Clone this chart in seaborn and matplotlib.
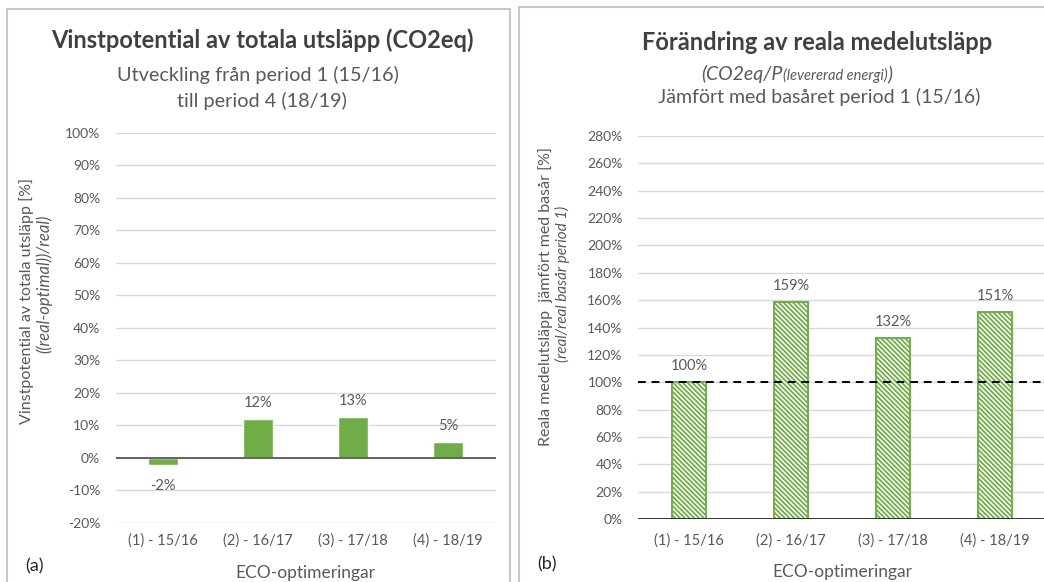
import matplotlib
matplotlib.use("Agg")
import matplotlib.pyplot as plt
import seaborn as sns
from matplotlib.patches import Rectangle

# ---- data -------------------------------------------------------------
categories = ["(1) - 15/16", "(2) - 16/17", "(3) - 17/18", "(4) - 18/19"]
vinst_values = [-0.022, 0.118, 0.126, 0.047]      # (real-optimal)/real
reala_values = [1.00, 1.59, 1.32, 1.51]           # real / real base year

left_yticks = [-0.2, -0.1, 0.0, 0.1, 0.2, 0.3, 0.4, 0.5, 0.6, 0.7, 0.8, 0.9, 1.0]
right_yticks = [0.0, 0.2, 0.4, 0.6, 0.8, 1.0, 1.2, 1.4, 1.6, 1.8, 2.0, 2.2, 2.4, 2.6, 2.8]
base_level = 1.0

# ---- style ------------------------------------------------------------
sns.set_theme(style="white")
plt.rcParams["font.family"] = ["Lato", "DejaVu Sans"]
plt.rcParams["hatch.linewidth"] = 1.3

GREEN = "#70ad47"
TEXT = "#595959"
GRID = "#d9d9d9"
BORDER = "#c6c6c6"

W, H = 1044, 582
fig = plt.figure(figsize=(W / 100, H / 100), dpi=100)


def fx(px):
    return px / W


def fy(py):
    return 1 - py / H


# panel frames
fig.add_artist(Rectangle((fx(7), fy(600)), fx(510 - 7), fy(9) - fy(600),
                         transform=fig.transFigure, fill=False,
                         edgecolor=BORDER, lw=1.5))
fig.add_artist(Rectangle((fx(519), fy(600)), fx(1060 - 519), fy(7) - fy(600),
                         transform=fig.transFigure, fill=False,
                         edgecolor=BORDER, lw=1.5))

ax1 = fig.add_axes([fx(115.5), fy(522.7), fx(495.5 - 115.5), fy(132.7) - fy(522.7)])
ax2 = fig.add_axes([fx(638), fy(519), fx(1046 - 638), fy(136) - fy(519)])


def pct(v):
    return f"{v * 100:.0f}%"


def style_axes(ax, ticks, lo, hi, xpad):
    ax.set_ylim(lo, hi)
    ax.set_yticks(ticks)
    ax.set_yticklabels([pct(t) for t in ticks])
    ax.yaxis.grid(True, color=GRID, lw=1)
    ax.set_axisbelow(True)
    for s in ax.spines.values():
        s.set_visible(False)
    ax.tick_params(axis="y", length=0, pad=11, labelsize=10, labelcolor=TEXT)
    ax.tick_params(axis="x", length=0, pad=xpad, labelsize=10.5, labelcolor=TEXT)
    ax.set_xlabel("ECO-optimeringar", fontsize=12.5, color=TEXT, labelpad=12)
    ax.set_ylabel("")
    ax.patch.set_alpha(0)


# ---- left panel -------------------------------------------------------
sns.barplot(x=categories, y=vinst_values, ax=ax1, color=GREEN,
            saturation=1, width=0.32)
style_axes(ax1, left_yticks, -0.2, 1.0, 8)
ax1.axhline(0, color=TEXT, lw=1.3, zorder=1.5)
for i, v in enumerate(vinst_values):
    off = 11.5 if v >= 0 else -15
    ax1.annotate(pct(v), (i, v), xytext=(0, off), textcoords="offset points",
                 ha="center", va="center", fontsize=10.5, color=TEXT)

# ---- right panel ------------------------------------------------------
sns.barplot(x=categories, y=reala_values, ax=ax2, color="white",
            saturation=1, width=0.33)
for p in ax2.patches:
    p.set_facecolor("white")
    p.set_edgecolor(GREEN)
    p.set_hatch("\\" * 7)
    p.set_linewidth(1.4)
style_axes(ax2, right_yticks, 0, 2.8, 10)
ax2.axhline(0, color="#262626", lw=1.3, zorder=3)
ax2.axhline(base_level, color="black", lw=1.4, ls=(0, (4, 3)), zorder=4)
for i, v in enumerate(reala_values):
    ax2.annotate(pct(v), (i, v), xytext=(0, 11.5), textcoords="offset points",
                 ha="center", va="center", fontsize=10.5, color=TEXT)

# ---- titles -----------------------------------------------------------
fig.text(fx(262), fy(40), "Vinstpotential av totala utsläpp (CO2eq)",
         ha="center", va="center", fontsize=17, fontweight="bold", color="#404040")
fig.text(fx(258), fy(75), "Utveckling från period 1 (15/16)",
         ha="center", va="center", fontsize=14.3, color=TEXT)
fig.text(fx(262), fy(101), "till period 4 (18/19)",
         ha="center", va="center", fontsize=14.3, color=TEXT)

fig.text(fx(817), fy(42), "Förändring av reala medelutsläpp",
         ha="center", va="center", fontsize=17, fontweight="bold", color="#404040")
fig.text(fx(819), fy(97), "Jämfört med basåret period 1 (15/16)",
         ha="center", va="center", fontsize=14, color=TEXT)

# italic unit line with a smaller inner part
parts = [("(CO2eq/P", 14), ("(levererad energi)", 10.5), (")", 14)]
texts = []
for s, size in parts:
    texts.append(fig.text(0, fy(80), s, ha="left", va="baseline",
                          fontsize=size, style="italic", color=TEXT))
fig.canvas.draw()
renderer = fig.canvas.get_renderer()
widths = [t.get_window_extent(renderer).width for t in texts]
x = 797 - sum(widths) / 2
for t, w in zip(texts, widths):
    t.set_x(fx(x))
    x += w

# ---- axis titles ------------------------------------------------------
fig.text(fx(27), fy(301), "Vinstpotential av totala utsläpp [%]",
         rotation=90, ha="center", va="center", fontsize=11.5, color=TEXT)
fig.text(fx(44), fy(284), "((real-optimal))/real)",
         rotation=90, ha="center", va="center", fontsize=12,
         style="italic", color=TEXT)
fig.text(fx(546), fy(297), "Reala medelutsläpp  jämfört med basår [%]",
         rotation=90, ha="center", va="center", fontsize=11.5, color=TEXT)
fig.text(fx(562), fy(284), "(real/real basår period 1)",
         rotation=90, ha="center", va="center", fontsize=11,
         style="italic", color=TEXT)

fig.text(fx(35), fy(566), "(a)", ha="center", va="center", fontsize=13, color="#262626")
fig.text(fx(547), fy(564), "(b)", ha="center", va="center", fontsize=13, color="#262626")

fig.savefig("out.png", dpi=100)
